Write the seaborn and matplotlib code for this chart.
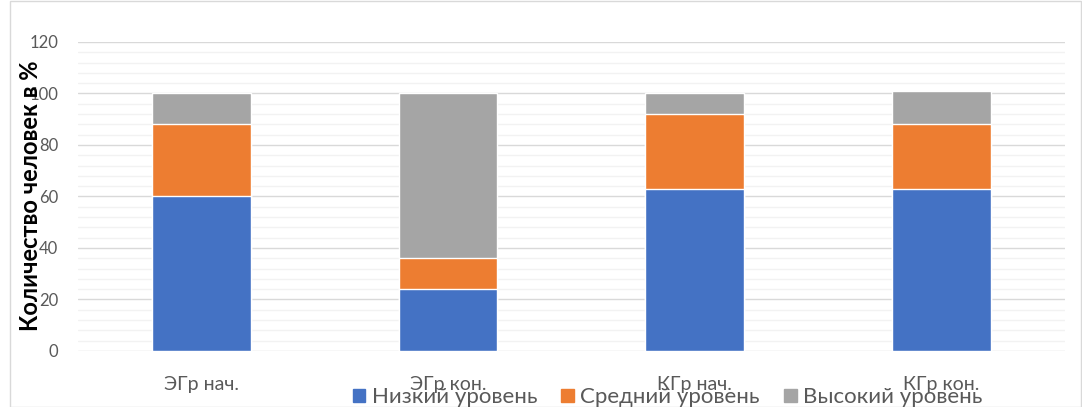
import pandas as pd
import matplotlib.pyplot as plt
import matplotlib.patches as mpatches
from matplotlib.ticker import MultipleLocator
import seaborn as sns

# данные
groups = ['ЭГр нач.', 'ЭГр кон.', 'КГр нач.', 'КГр кон.']
low = [60, 24, 63, 63]
mid = [28, 12, 29, 25]
high = [12, 64, 8, 13]
levels = ['Низкий уровень', 'Средний уровень', 'Высокий уровень']
colors = ['#4472C4', '#ED7D31', '#A5A5A5']

df = pd.DataFrame({'group': groups, 'low': low, 'mid': mid, 'high': high})
df['c1'] = df['low']
df['c2'] = df['low'] + df['mid']
df['c3'] = df['c2'] + df['high']

sns.set_style('white')
plt.rcParams['font.family'] = ['Lato', 'DejaVu Sans']

fig = plt.figure(figsize=(10.82, 4.07), dpi=100)
ax = fig.add_axes([0.072, 0.1376, 0.912, 0.7594])

# стек: рисуем накопленные суммы сверху вниз
for col, color in zip(['c3', 'c2', 'c1'], colors[::-1]):
    sns.barplot(data=df, x='group', y=col, color=color, width=0.4,
                saturation=1, ax=ax, zorder=3)

ax.set_ylim(0, 120)
ax.set_xlim(-0.5, 3.5)
ax.yaxis.set_major_locator(MultipleLocator(20))
ax.yaxis.set_minor_locator(MultipleLocator(4))
ax.grid(which='minor', axis='y', color='#F2F2F2', linewidth=1, zorder=0)
ax.grid(which='major', axis='y', color='#D9D9D9', linewidth=1, zorder=1)
for s in ax.spines.values():
    s.set_visible(False)
ax.tick_params(axis='both', which='both', length=0, colors='#595959')
ax.tick_params(axis='y', pad=14, labelsize=12)
ax.tick_params(axis='x', pad=18, labelsize=14)
ax.set_xlabel('')
ax.set_ylabel('')

fig.text(0.028, 0.518, 'Количество человек в %', rotation=90, ha='center',
         va='center', fontsize=17, fontweight='bold', color='black')

handles = [mpatches.Patch(color=c, label=l) for c, l in zip(colors, levels)]
fig.legend(handles=handles, loc='lower center', bbox_to_anchor=(0.617, -0.05),
           ncol=3, frameon=False, fontsize=16, handlelength=0.55, handleheight=0.55,
           handletextpad=0.3, columnspacing=1.1, labelcolor='#595959')

fig.patches.append(mpatches.Rectangle((0.009, 0.0), 0.99, 0.998, transform=fig.transFigure,
                                      fill=False, edgecolor='#D9D9D9', linewidth=1))

plt.savefig('out.png', dpi=100)
